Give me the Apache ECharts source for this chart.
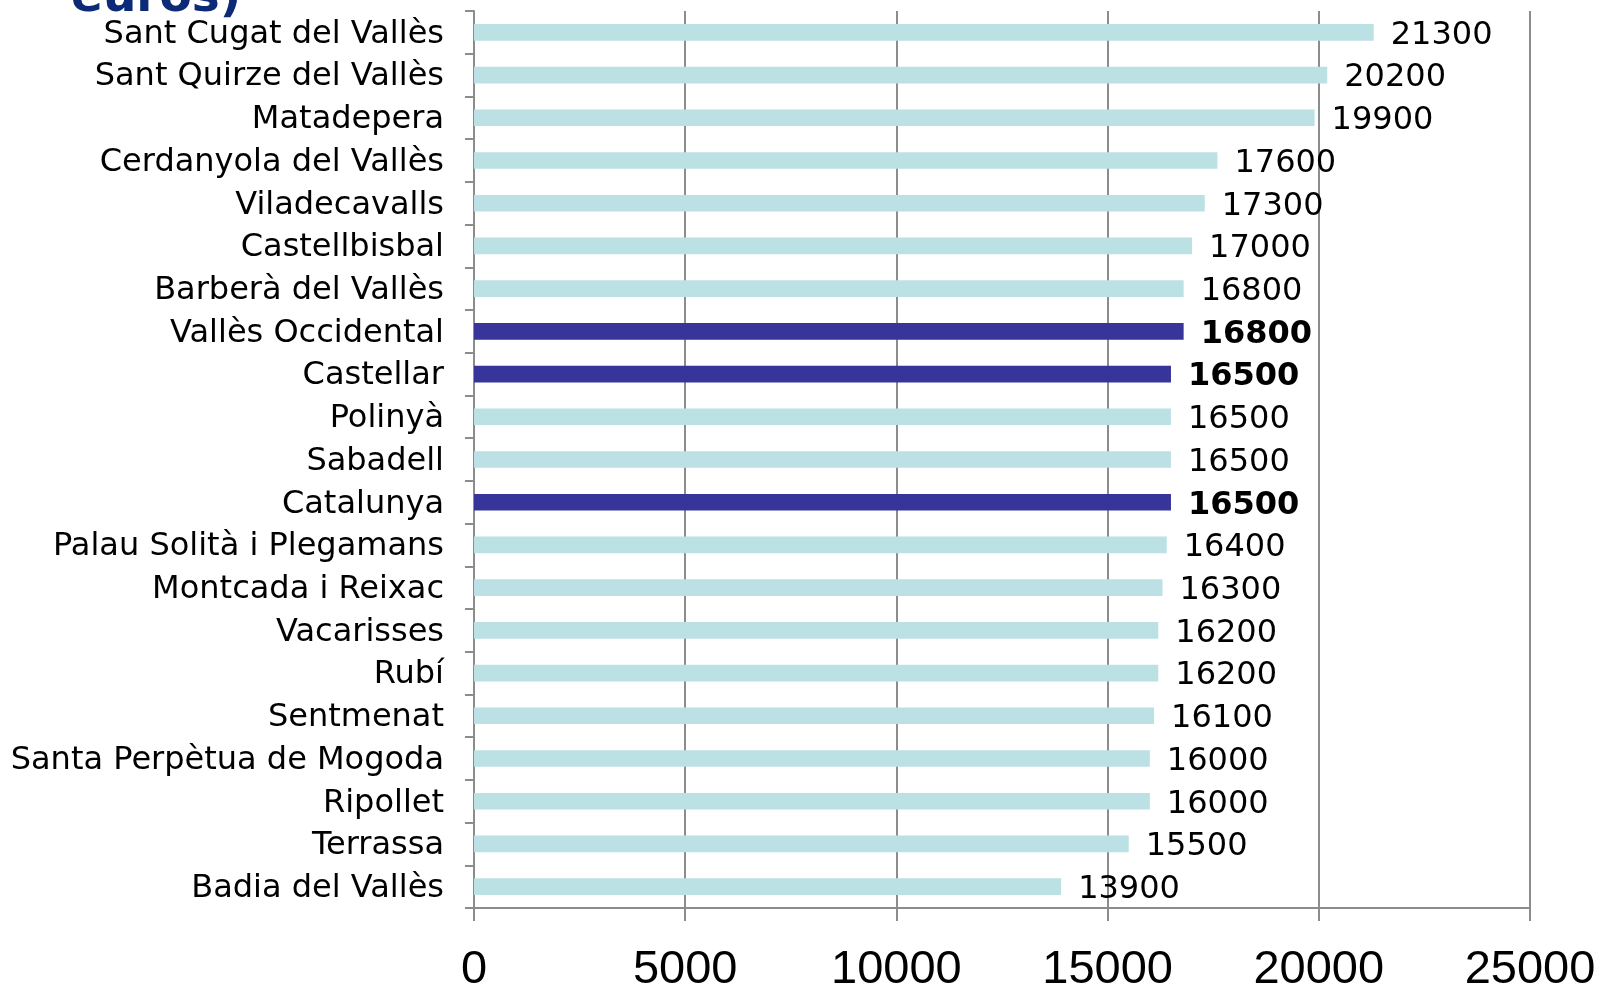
<!DOCTYPE html>
<html>
<head>
<meta charset="utf-8">
<script src="https://cdn.jsdelivr.net/npm/echarts@6/dist/echarts.min.js"></script>
<style>
  html, body { margin: 0; padding: 0; background: #fff; }
  #barChart { width: 1600px; height: 987px; }
</style>
</head>
<body>
<div id="barChart"></div>
<script>
// categories, top to bottom
var municipis = [
  'Sant Cugat del Vallès', 'Sant Quirze del Vallès', 'Matadepera', 'Cerdanyola del Vallès',
  'Viladecavalls', 'Castellbisbal', 'Barberà del Vallès', 'Vallès Occidental', 'Castellar',
  'Polinyà', 'Sabadell', 'Catalunya', 'Palau Solità i Plegamans', 'Montcada i Reixac',
  'Vacarisses', 'Rubí', 'Sentmenat', 'Santa Perpètua de Mogoda', 'Ripollet', 'Terrassa',
  'Badia del Vallès'
];
var renda = [
  21300, 20200, 19900, 17600, 17300, 17000, 16800, 16800, 16500, 16500, 16500,
  16500, 16400, 16300, 16200, 16200, 16100, 16000, 16000, 15500, 13900
];
var destacats = ['Vallès Occidental', 'Castellar', 'Catalunya'];
var xTicks = [0, 5000, 10000, 15000, 20000, 25000];

var myChart = echarts.init(document.getElementById('barChart'));

var seriesData = renda.map(function (v, i) {
  var hi = destacats.indexOf(municipis[i]) >= 0;
  return {
    value: v,
    itemStyle: { color: hi ? '#37349a' : '#bce1e4' },
    label: { fontWeight: hi ? 'bold' : 'normal' }
  };
});

myChart.setOption({
  animation: false,
  graphic: [{
    type: 'text',
    left: 71,
    top: -25,
    style: {
      text: 'euros)',
      font: 'bold 47px "DejaVu Sans"',
      fill: '#0c2a78'
    }
  }],
  grid: {
    left: 474, right: 70, top: 11, bottom: 79,
    containLabel: false,
    outerBoundsMode: 'none'
  },
  xAxis: {
    type: 'value',
    min: xTicks[0],
    max: xTicks[xTicks.length - 1],
    interval: 5000,
    axisLine: { show: true, lineStyle: { color: '#8c8c8c', width: 2 } },
    axisTick: { show: true, length: 13, lineStyle: { color: '#8c8c8c', width: 2 } },
    splitLine: { show: true, lineStyle: { color: '#8c8c8c', width: 2 } },
    axisLabel: {
      margin: 39,
      color: '#000',
      fontSize: 47,
      fontFamily: '"Liberation Sans", Arial, sans-serif',
      formatter: function (v) { return String(v); }
    }
  },
  yAxis: {
    type: 'category',
    inverse: true,
    data: municipis,
    axisLine: { show: true, lineStyle: { color: '#8c8c8c', width: 2 } },
    axisTick: { show: true, length: 9, lineStyle: { color: '#8c8c8c', width: 2 } },
    axisLabel: {
      margin: 30,
      color: '#000',
      fontSize: 32,
      verticalAlign: 'top',
      lineHeight: 4,
      fontFamily: '"DejaVu Sans", Verdana, sans-serif'
    }
  },
  series: [{
    type: 'bar',
    data: seriesData,
    barCategoryGap: '61%',
    label: {
      show: true,
      position: 'right',
      distance: 17,
      offset: [0, 3],
      color: '#000',
      fontSize: 32,
      fontFamily: '"DejaVu Sans", Verdana, sans-serif'
    }
  }]
});
</script>
</body>
</html>
